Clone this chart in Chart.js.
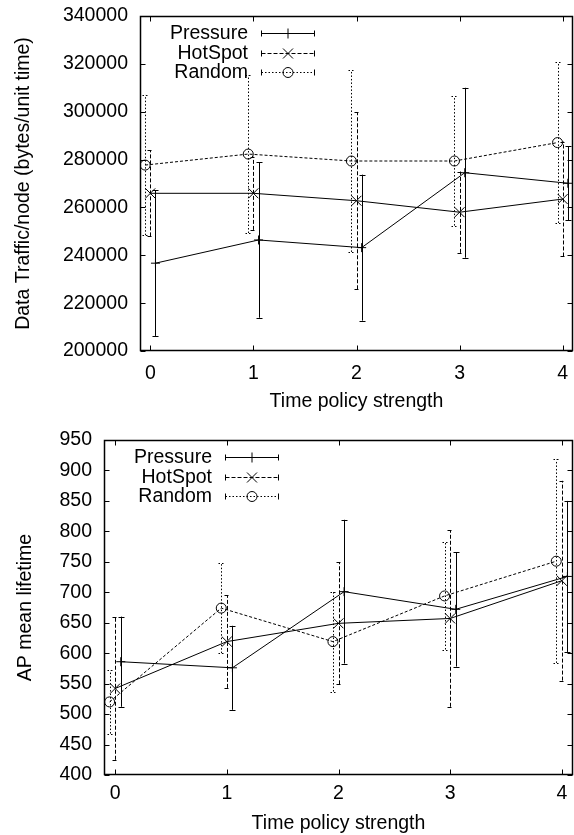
<!DOCTYPE html>
<html lang="en">
<head>
    <meta charset="UTF-8">
    <title>time policy</title>
    <script src="https://cdn.jsdelivr.net/npm/chart.js"></script>
    <style>
      body { margin: 0; background: white; }
      .caixa1 { position: absolute; left: 0; top: 0; width: 574px; height: 420px; }
      .caixa2 { position: absolute; left: 0; top: 420px; width: 574px; height: 415px; }
    </style>
</head>
<body>
    <div class="caixa1"><canvas id="grafico1"></canvas></div>
    <div class="caixa2"><canvas id="grafico2"></canvas></div>

<script>
  // policy strength values and tick labels
  const strength = [0, 1, 2, 3, 4]
  const trafficTicks = [200000, 220000, 240000, 260000, 280000, 300000, 320000, 340000]
  const lifeTicks = [400, 450, 500, 550, 600, 650, 700, 750, 800, 850, 900, 950]
  const nomes = ['Pressure', 'HotSpot', 'Random']

  // data traffic per node (mean and +/- error)
  const pressureTraffic = [236700, 246400, 243200, 274500, 270100]
  const pressureTrafficErr = [30400, 32500, 30500, 35500, 15500]
  const hotspotTraffic = [265900, 265900, 262800, 258000, 263500]
  const hotspotTrafficErr = [18000, 15300, 37000, 17000, 24000]
  const randomTraffic = [277700, 282300, 279400, 279400, 287100]
  const randomTrafficErr = [29300, 33000, 38000, 27000, 33600]

  // AP mean lifetime
  const pressureLife = [586, 576, 701, 672, 726]
  const pressureLifeErr = [74, 69, 118, 94, 124]
  const hotspotLife = [542, 619, 649, 657, 719]
  const hotspotLifeErr = [117, 76, 100, 145, 164]
  const randomLife = [520, 674, 619, 694, 751]
  const randomLifeErr = [52, 74, 82, 88, 167]

  const fonte = 'Liberation Sans, Arial, Helvetica, sans-serif'
  Chart.defaults.font.family = fonte
  Chart.defaults.font.size = 19.5
  Chart.defaults.color = '#000'

  function pontos(valores, desloc){
    return valores.map((v, i) => ({x: strength[i] + desloc, y: v}))
  }

  function series(p, pe, h, he, r, re){
    return [{
      label: nomes[0], data: pontos(p, 0.05), err: pe, errDash: [],
      borderColor: '#000', borderWidth: 1, pointStyle: 'cross', pointRadius: 4.5,
      pointBorderColor: '#000', pointBorderWidth: 1, backgroundColor: 'rgba(0,0,0,0)'
    }, {
      label: nomes[1], data: pontos(h, 0), err: he, errDash: [4, 2],
      borderColor: '#000', borderWidth: 1, pointStyle: 'crossRot', pointRadius: 7,
      pointBorderColor: '#000', pointBorderWidth: 1, backgroundColor: 'rgba(0,0,0,0)'
    }, {
      label: nomes[2], data: pontos(r, -0.05), err: re, errDash: [1.5, 2],
      borderColor: '#000', borderWidth: 1, borderDash: [3, 2], pointStyle: 'circle', pointRadius: 5,
      pointBorderColor: '#000', pointBorderWidth: 1, backgroundColor: 'rgba(0,0,0,0)'
    }]
  }

  // error bars, frame with inward ticks, and gnuplot-like key
  const extras = {
    id: 'extras',
    afterDatasetsDraw(chart){
      const ctx = chart.ctx
      const a = chart.chartArea
      const xs = chart.scales.x
      const ys = chart.scales.y
      ctx.save()
      ctx.strokeStyle = '#000'
      ctx.lineWidth = 1

      chart.data.datasets.forEach((ds, i) => {
        const meta = chart.getDatasetMeta(i)
        ctx.setLineDash(ds.errDash)
        meta.data.forEach((pt, j) => {
          const x = Math.round(pt.x) + 0.5
          const y1 = ys.getPixelForValue(ds.data[j].y - ds.err[j])
          const y2 = ys.getPixelForValue(ds.data[j].y + ds.err[j])
          ctx.beginPath()
          ctx.moveTo(x, y1); ctx.lineTo(x, y2)
          ctx.moveTo(x - 3, Math.round(y1) + 0.5); ctx.lineTo(x + 3, Math.round(y1) + 0.5)
          ctx.moveTo(x - 3, Math.round(y2) + 0.5); ctx.lineTo(x + 3, Math.round(y2) + 0.5)
          ctx.stroke()
        })
      })

      // frame
      ctx.setLineDash([])
      ctx.lineWidth = 1.5
      const L = Math.round(a.left) + 0.5, R = Math.round(a.right) - 0.5
      const T = Math.round(a.top) + 0.5, B = Math.round(a.bottom) - 0.5
      ctx.strokeRect(L, T, R - L, B - T)
      ctx.lineWidth = 1
      ctx.beginPath()
      xs.ticks.forEach(t => {
        const x = Math.round(xs.getPixelForValue(t.value)) + 0.5
        ctx.moveTo(x, B); ctx.lineTo(x, B - 5)
        ctx.moveTo(x, T); ctx.lineTo(x, T + 5)
      })
      ys.ticks.forEach(t => {
        const y = Math.round(ys.getPixelForValue(t.value)) + 0.5
        ctx.moveTo(L, y); ctx.lineTo(L + 5, y)
        ctx.moveTo(R, y); ctx.lineTo(R - 5, y)
      })
      ctx.stroke()

      // key
      ctx.font = '19.5px ' + fonte
      ctx.fillStyle = '#000'
      ctx.textAlign = 'right'
      ctx.textBaseline = 'middle'
      chart.data.datasets.forEach((ds, i) => {
        const y = Math.round(a.top + 17 + i * 19.5) + 0.5
        ctx.fillText(ds.label, a.left + 108, y)
        const x1 = a.left + 121.5, x2 = a.left + 174.5, xm = a.left + 148
        ctx.setLineDash(ds.errDash)
        ctx.beginPath()
        ctx.moveTo(x1, y); ctx.lineTo(x2, y)
        ctx.stroke()
        ctx.setLineDash([])
        ctx.beginPath()
        ctx.moveTo(x1, y - 3); ctx.lineTo(x1, y + 3)
        ctx.moveTo(x2, y - 3); ctx.lineTo(x2, y + 3)
        if (ds.pointStyle == 'cross') {
          ctx.moveTo(xm - 5, y); ctx.lineTo(xm + 5, y)
          ctx.moveTo(xm, y - 5); ctx.lineTo(xm, y + 5)
        } else if (ds.pointStyle == 'crossRot') {
          ctx.moveTo(xm - 5, y - 5); ctx.lineTo(xm + 5, y + 5)
          ctx.moveTo(xm - 5, y + 5); ctx.lineTo(xm + 5, y - 5)
        } else {
          ctx.moveTo(xm + 5, y)
          ctx.arc(xm, y, 5, 0, Math.PI * 2)
        }
        ctx.stroke()
      })
      ctx.restore()
    }
  }

  function semPadding(s){
    s.paddingLeft = 0; s.paddingRight = 0
    s.paddingTop = 0; s.paddingBottom = 0
  }

  function grafico(id, datasets, yTicks, yTitulo, cfg){
    new Chart(document.getElementById(id), {
      type: 'line',
      data: { datasets: datasets },
      plugins: [extras],
      options: {
        responsive: true,
        maintainAspectRatio: false,
        animation: false,
        layout: { autoPadding: false, padding: { top: cfg.top, right: 1, left: 0, bottom: 0 } },
        plugins: { legend: { display: false }, tooltip: { enabled: false } },
        scales: {
          x: {
            type: 'linear', min: -0.1, max: 4.1,
            afterBuildTicks: s => { s.ticks = strength.map(v => ({value: v})) },
            afterFit: s => { s.height = cfg.xh; semPadding(s) },
            grid: { display: false, drawTicks: false },
            border: { display: false },
            ticks: { padding: cfg.xpad, maxRotation: 0, callback: v => String(v) },
            title: { display: true, text: 'Time policy strength', padding: { top: 0, bottom: cfg.tpad } }
          },
          y: {
            type: 'linear', min: yTicks[0], max: yTicks[yTicks.length - 1],
            afterBuildTicks: s => { s.ticks = yTicks.map(v => ({value: v})) },
            afterFit: s => { s.width = cfg.yw; semPadding(s) },
            grid: { display: false, drawTicks: false },
            border: { display: false },
            ticks: { padding: 12, callback: v => String(v) },
            title: { display: true, text: yTitulo, padding: { top: cfg.ypad, bottom: 0 } }
          }
        }
      }
    })
  }

  window.onload = () => {
    grafico('grafico1',
      series(pressureTraffic, pressureTrafficErr, hotspotTraffic, hotspotTrafficErr, randomTraffic, randomTrafficErr),
      trafficTicks, 'Data Traffic/node (bytes/unit time)',
      { top: 16, xh: 69, xpad: 11, tpad: 7, yw: 140, ypad: 12 })
    grafico('grafico2',
      series(pressureLife, pressureLifeErr, hotspotLife, hotspotLifeErr, randomLife, randomLifeErr),
      lifeTicks, 'AP mean lifetime',
      { top: 20, xh: 60, xpad: 7, tpad: 0, yw: 104, ypad: 14 })
  }
</script>
</body>
</html>
